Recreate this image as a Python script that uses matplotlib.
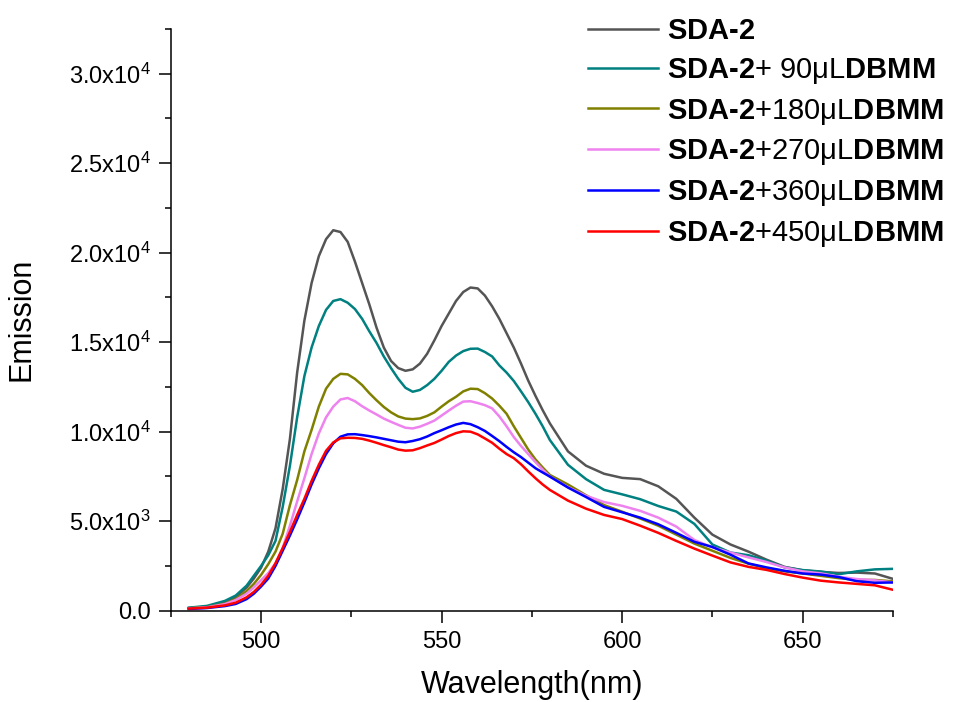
import numpy as np
import matplotlib
matplotlib.use('Agg')
import matplotlib.pyplot as plt
from matplotlib.ticker import MultipleLocator, FuncFormatter

plt.rcParams['font.family'] = ['Liberation Sans', 'DejaVu Sans']
plt.rcParams['mathtext.fontset'] = 'custom'
plt.rcParams['mathtext.rm'] = 'Liberation Sans'
plt.rcParams['mathtext.bf'] = 'Liberation Sans:bold'
plt.rcParams['mathtext.it'] = 'Liberation Sans:italic'

# wavelength grid (nm)
wavelength = [480, 485, 490, 493,
              496, 498, 500, 502, 504, 506, 508, 510, 512, 514, 516, 518, 520,
              522, 524, 526, 528, 530, 532, 534, 536, 538, 540, 542, 544, 546,
              548, 550, 552, 554, 556, 558, 560, 562, 564, 566, 568, 570, 572, 574, 576, 578, 580,
              585, 590, 595, 600, 605, 610, 615, 620, 625, 630, 635, 640, 645, 650,
              655, 660, 665, 670, 675]

sda2 = [150, 230, 450, 750,
        1300, 1800, 2400, 3300, 4600, 6800, 9600, 13300, 16200, 18300, 19800, 20750, 21250,
        21150, 20600, 19500, 18300, 17100, 15800, 14700, 13950, 13550, 13400, 13480, 13800, 14350,
        15100, 15900, 16600, 17300, 17800, 18050, 18000, 17600, 17000, 16300, 15500, 14700, 13800, 12850, 12000, 11200, 10460,
        8900, 8100, 7650, 7420, 7350, 6950, 6250, 5200, 4250, 3700, 3300, 2850, 2450, 2260,
        2170, 2110, 2130, 2080, 1780]

dbmm_90 = [170, 270, 550, 850,
           1400, 1950, 2500, 3100, 3900, 5800, 8100, 10800, 13100, 14700, 15900, 16800, 17300,
           17400, 17200, 16850, 16300, 15600, 14950, 14200, 13550, 12950, 12450, 12230, 12330, 12600,
           12950, 13400, 13900, 14250, 14500, 14630, 14640, 14450, 14200, 13700, 13300, 12830, 12250, 11650, 11000, 10300, 9530,
           8150, 7350, 6750, 6500, 6230, 5850, 5540, 4850, 3700, 3250, 3100, 2800, 2420, 2270,
           2190, 2040, 2200, 2310, 2340]

dbmm_180 = [140, 200, 400, 650,
            1100, 1500, 2000, 2600, 3300, 4300, 5900, 7300, 8900, 10100, 11400, 12400, 12950,
            13230, 13200, 12950, 12600, 12150, 11750, 11380, 11080, 10850, 10730, 10700, 10740, 10880,
            11080, 11400, 11700, 11950, 12250, 12400, 12380, 12150, 11850, 11450, 11000, 10300, 9650, 9000, 8450, 8000, 7580,
            7050, 6450, 5900, 5530, 5150, 4750, 4250, 3750, 3350, 2950, 2630, 2370, 2200, 2080,
            1950, 1820, 1720, 1720, 1640]

dbmm_270 = [130, 190, 370, 600,
            950, 1300, 1700, 2100, 2650, 3500, 4750, 6100, 7400, 8750, 9900, 10800, 11400,
            11800, 11880, 11700, 11420, 11180, 10960, 10730, 10550, 10380, 10220, 10180, 10280, 10440,
            10620, 10900, 11180, 11450, 11680, 11700, 11600, 11480, 11300, 10850, 10300, 9700, 9200, 8750, 8300, 7880, 7490,
            6900, 6420, 6070, 5860, 5580, 5200, 4700, 3950, 3540, 3250, 2980, 2720, 2420, 2200,
            2090, 1900, 1770, 1700, 1580]

dbmm_360 = [100, 150, 260, 380,
            650, 950, 1350, 1800, 2500, 3350, 4200, 5100, 6050, 7050, 7950, 8750, 9350,
            9720, 9850, 9860, 9810, 9750, 9680, 9600, 9520, 9440, 9410, 9480, 9580, 9730,
            9920, 10080, 10250, 10400, 10490, 10420, 10250, 10040, 9760, 9470, 9150, 8850, 8580, 8270, 7960, 7720, 7490,
            6880, 6350, 5800, 5500, 5200, 4830, 4350, 3850, 3560, 3130, 2640, 2420, 2230, 2080,
            2020, 1880, 1650, 1560, 1580]

dbmm_450 = [120, 170, 300, 450,
            750, 1050, 1450, 1950, 2650, 3500, 4400, 5350, 6250, 7250, 8150, 8930, 9400,
            9630, 9660, 9650, 9600, 9500, 9380, 9250, 9130, 9000, 8940, 8960, 9080, 9230,
            9370, 9560, 9760, 9920, 10020, 10000, 9850, 9620, 9380, 9050, 8750, 8520, 8180, 7780, 7400, 7050, 6745,
            6150, 5700, 5350, 5120, 4750, 4350, 3900, 3470, 3080, 2700, 2450, 2280, 2050, 1850,
            1680, 1580, 1500, 1420, 1170]

series = [sda2, dbmm_90, dbmm_180, dbmm_270, dbmm_360, dbmm_450]
labels = ['$\\mathbf{SDA\u20102}$',
          '$\\mathbf{SDA\u20102}$+ 90\u03bcL$\\mathbf{DBMM}$',
          '$\\mathbf{SDA\u20102}$+180\u03bcL$\\mathbf{DBMM}$',
          '$\\mathbf{SDA\u20102}$+270\u03bcL$\\mathbf{DBMM}$',
          '$\\mathbf{SDA\u20102}$+360\u03bcL$\\mathbf{DBMM}$',
          '$\\mathbf{SDA\u20102}$+450\u03bcL$\\mathbf{DBMM}$']
colors = ['#555555', '#008080', '#808000', '#EE82EE', '#0000FF', '#FF0000']


def sci_fmt(v, pos):
    if v == 0:
        return '0.0'
    exp = int(np.floor(np.log10(abs(v))))
    mant = v / 10 ** exp
    return '%.1fx10$^{%d}$' % (mant, exp)


fig = plt.figure(figsize=(9.54, 7.02), dpi=100)
ax = fig.add_axes([0.179, 0.130, 0.757, 0.829])

for vals, lab, col in zip(series, labels, colors):
    ax.plot(wavelength, vals, color=col, lw=1.8, label=lab, solid_joinstyle='round')

ax.set_xlim(475, 675)
ax.set_ylim(0, 32500)
ax.xaxis.set_major_locator(MultipleLocator(50))
ax.xaxis.set_minor_locator(MultipleLocator(25))
ax.yaxis.set_major_locator(MultipleLocator(5000))
ax.yaxis.set_minor_locator(MultipleLocator(2500))
ax.yaxis.set_major_formatter(FuncFormatter(sci_fmt))

for s in ['top', 'right']:
    ax.spines[s].set_visible(False)
for s in ['left', 'bottom']:
    ax.spines[s].set_linewidth(1.1)
ax.tick_params(which='major', direction='out', length=8.5, width=1.1, labelsize=17, pad=6)
ax.tick_params(which='minor', direction='out', length=4.5, width=1.1)

ax.set_xlabel('Wavelength(nm)', fontsize=22, labelpad=12)
ax.set_ylabel('Emission', fontsize=22, labelpad=23)

fig.legend(loc='upper left', bbox_to_anchor=(588 / 954, 1 - 17 / 702), frameon=False,
           fontsize=21, handlelength=2.4, handletextpad=0.31, labelspacing=0.37,
           borderpad=0, borderaxespad=0)

fig.savefig('out.png', dpi=100)
